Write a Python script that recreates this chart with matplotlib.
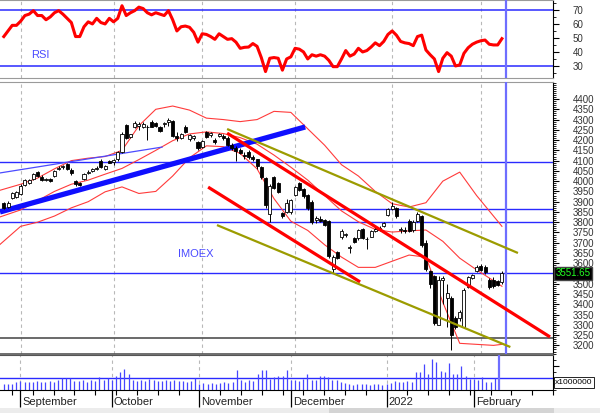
import numpy as np
import pandas as pd
import matplotlib
matplotlib.use("Agg")
import matplotlib.pyplot as plt
from matplotlib.patches import Rectangle
from matplotlib.transforms import blended_transform_factory, offset_copy
from matplotlib.ticker import MultipleLocator

plt.rcParams['font.family'] = ['Liberation Sans', 'DejaVu Sans']

# ---- data -------------------------------------------------------------------
dates = pd.bdate_range("2021-08-26", "2022-02-08")
future_days = pd.bdate_range("2021-08-26", "2022-02-28")
month_names = ["September", "October", "November", "December", "2022", "February"]

opens = [3892, 3872, 3918, 3925, 3938, 3983, 3990, 4012, 4045, 4022,
         4008, 4010, 4026, 4058, 4068, 4082, 4056, 4000, 3990, 4010,
         4040, 4050, 4060, 4098, 4058, 4098, 4092, 4108, 4140, 4272,
         4215, 4262, 4270, 4265, 4262, 4290, 4284, 4265, 4278, 4290,
         4292, 4222, 4210, 4266, 4205, 4210, 4190, 4165, 4240, 4225,
         4200, 4222, 4222, 4212, 4176, 4160, 4150, 4128, 4142, 4120,
         4106, 4070, 4015, 3840, 4018, 3990, 3846, 3852, 3848, 3932,
         3990, 3960, 3932, 3900, 3812, 3818, 3810, 3805, 3570, 3655,
         3728, 3740, 3672, 3722, 3722, 3765, 3720, 3730, 3758, 3764,
         3780, 3836, 3862, 3870, 3760, 3762, 3808, 3760, 3808, 3830,
         3700, 3560, 3540, 3300, 3520, 3430, 3430, 3335, 3335, 3290,
         3485, 3528, 3562, 3588, 3584, 3518, 3520, 3512, 3508]
highs = [3898, 3902, 3948, 3952, 3985, 4010, 4012, 4040, 4050, 4028,
         4014, 4014, 4054, 4072, 4080, 4088, 4062, 4006, 3998, 4042,
         4052, 4064, 4072, 4106, 4078, 4104, 4110, 4145, 4238, 4280,
         4232, 4292, 4290, 4286, 4272, 4296, 4290, 4270, 4290, 4310,
         4298, 4240, 4235, 4272, 4232, 4225, 4196, 4202, 4246, 4240,
         4210, 4236, 4230, 4218, 4186, 4170, 4160, 4140, 4150, 4126,
         4110, 4074, 4020, 3985, 4024, 3998, 3852, 3915, 3912, 3976,
         3996, 3966, 3936, 3906, 3830, 3828, 3814, 3812, 3640, 3662,
         3765, 3748, 3690, 3730, 3768, 3770, 3728, 3762, 3775, 3780,
         3800, 3870, 3900, 3876, 3775, 3778, 3815, 3810, 3850, 3836,
         3712, 3565, 3545, 3540, 3540, 3500, 3440, 3345, 3370, 3480,
         3540, 3550, 3590, 3596, 3590, 3530, 3534, 3520, 3562]
lows = [3862, 3868, 3915, 3920, 3932, 3978, 3985, 4008, 4020, 4000,
        4000, 3998, 4020, 4052, 4060, 4052, 4030, 3978, 3975, 4005,
        4035, 4044, 4052, 4062, 4052, 4086, 4080, 4100, 4135, 4205,
        4210, 4258, 4250, 4260, 4200, 4262, 4262, 4240, 4262, 4270,
        4215, 4198, 4205, 4236, 4196, 4200, 4150, 4160, 4210, 4215,
        4180, 4216, 4200, 4170, 4150, 4100, 4130, 4110, 4110, 4100,
        4060, 4010, 3870, 3800, 3960, 3940, 3822, 3846, 3840, 3928,
        3950, 3920, 3860, 3790, 3798, 3800, 3780, 3625, 3552, 3620,
        3720, 3730, 3650, 3700, 3714, 3716, 3670, 3726, 3750, 3758,
        3775, 3830, 3858, 3820, 3745, 3748, 3752, 3754, 3800, 3680,
        3560, 3480, 3300, 3320, 3400, 3290, 3177, 3280, 3320, 3285,
        3480, 3522, 3556, 3560, 3550, 3475, 3480, 3490, 3500]
closes = [3870, 3896, 3942, 3946, 3978, 4004, 4006, 4034, 4026, 4006,
          4010, 4002, 4048, 4064, 4072, 4058, 4040, 3984, 3982, 4036,
          4046, 4058, 4066, 4068, 4074, 4090, 4104, 4140, 4232, 4212,
          4228, 4282, 4276, 4280, 4264, 4266, 4270, 4246, 4282, 4296,
          4222, 4208, 4230, 4240, 4226, 4218, 4162, 4196, 4216, 4236,
          4192, 4232, 4210, 4176, 4160, 4148, 4138, 4122, 4116, 4106,
          4072, 4018, 3884, 3976, 3966, 3948, 3828, 3892, 3906, 3970,
          3956, 3926, 3870, 3800, 3820, 3806, 3788, 3634, 3632, 3626,
          3758, 3742, 3680, 3706, 3760, 3724, 3718, 3756, 3766, 3772,
          3794, 3862, 3880, 3828, 3766, 3756, 3758, 3802, 3842, 3690,
          3570, 3500, 3310, 3520, 3530, 3455, 3250, 3290, 3362, 3470,
          3533, 3543, 3582, 3568, 3556, 3486, 3488, 3496, 3551.65]

volumes = [14000, 15000, 16000, 21000, 22000, 20000, 21000, 20000, 22000, 19000,
           20000, 23000, 21000, 24000, 30000, 31000, 30000, 23000, 22000, 24000,
           21000, 25000, 22000, 32000, 26000, 31000, 24000, 36000, 45000, 52000,
           40000, 26000, 23000, 25000, 22000, 27000, 24000, 22000, 23000, 25000,
           22000, 24000, 23000, 22000, 21000, 23000, 30000, 16000, 18000, 15000,
           17000, 16000, 18000, 19000, 17000, 20000, 50000, 26000, 20000, 24000,
           22000, 40000, 50000, 50000, 28000, 32000, 36000, 34000, 50000, 26000,
           24000, 22000, 28000, 40000, 26000, 24000, 36000, 36000, 32000, 25000,
           24000, 20000, 17000, 15000, 12000, 16000, 14000, 16000, 13000, 15000,
           14000, 12000, 16000, 18000, 22000, 20000, 19000, 22000, 20000, 44000,
           46000, 65000, 40000, 77000, 69000, 48000, 44000, 68000, 40000, 40000,
           61000, 36000, 28000, 27000, 26000, 32000, 21000, 19000, 31000]

rsi = [51, 55, 59, 59, 62, 66, 67, 69.5, 66, 66,
       63, 65, 68, 69.5, 67, 64, 61, 51, 51, 58,
       61.5, 60, 64, 61, 60, 64, 61.5, 64, 73, 66,
       68, 69.5, 72, 71, 68, 66.5, 68, 67, 66, 69.5,
       63, 55, 58, 58.5, 57.6, 54, 47, 53, 52.5, 51,
       49, 53, 51, 49, 49.5, 47, 42.6, 43.3, 43.5, 46,
       44, 36, 26, 35.5, 36, 35.5, 27, 35, 36.5, 42.6,
       42, 40, 35, 38, 37, 38, 37, 34, 29.5, 29.5,
       35, 41, 37, 38.5, 42.6, 40, 41, 43.5, 46.5, 44.5,
       47.5, 52.5, 55, 52, 47.5, 46.5, 46, 44.5, 51, 52,
       41.4, 38, 35, 26, 35.5, 39.5, 37, 30, 30.7, 39,
       43, 45.5, 47, 48, 48.5, 45.5, 45, 45, 49.5]

# Bollinger bands (bar index -> price)
bb_idx = [-1, 4, 8, 12, 16, 20, 24, 28, 32, 36, 40, 44, 48, 52, 56, 60, 64,
          68, 72, 76, 80, 84, 88, 92, 96, 100, 104, 108, 112, 116, 118]
bb_upper = [3955, 3985, 4015, 4060, 4100, 4112, 4120, 4150, 4270, 4350, 4366,
            4346, 4307, 4300, 4290, 4300, 4340, 4335, 4255, 4175, 4080, 4025,
            3950, 3890, 3874, 3895, 4000, 4044, 3930, 3830, 3780]
bb_mid = [3825, 3860, 3905, 3950, 3985, 4005, 4034, 4062, 4105, 4150, 4197,
          4230, 4240, 4232, 4212, 4180, 4127, 4068, 4005, 3930, 3855, 3802,
          3765, 3752, 3758, 3762, 3707, 3625, 3568, 3515, 3488]
bb_lower = [3690, 3780, 3800, 3830, 3870, 3900, 3948, 3972, 3940, 3950, 4025,
            4114, 4172, 4168, 4135, 4060, 3915, 3805, 3760, 3690, 3630, 3580,
            3580, 3610, 3640, 3630, 3410, 3210, 3205, 3200, 3205]

# trend lines: (start idx, end idx), (start price, end price)
thin_blue = ((-0.9, 37.5), (4040, 4166))
thick_blue = ((-0.9, 71.4), (3850, 4264))
red_upper = ((52.9, 129.4), (4234, 3241))
red_lower = ((48.4, 84.4), (3971, 3509))
olive_upper = ((52.9, 121.8), (4254, 3650))
olive_lower = ((50.5, 120.0), (3786, 3192))

blue_levels = [4095, 3864, 3803, 3551]
black_level = 3236
rsi_levels = [70, 30]
vol_level = 30000
cursor_idx = 119
last_price = "3551.65"

# ---- figure -----------------------------------------------------------------
W, H = 600, 413
fig = plt.figure(figsize=(W / 100, H / 100), dpi=100, facecolor='white')

def panel(x0, y0, x1, y1):
    return fig.add_axes([x0 / W, 1 - y1 / H, (x1 - x0) / W, (y1 - y0) / H])

ax_r = panel(0, 0, 553, 78)
ax_p = panel(0, 82, 553, 354)
ax_v = panel(0, 355, 553, 390)

n = len(closes)
idx = np.arange(n)
month_starts = [i for i in range(1, n) if dates[i].month != dates[i - 1].month]
mondays = [i for i, d in enumerate(future_days) if d.weekday() == 0]

for ax in (ax_r, ax_p, ax_v):
    ax.set_xlim(-0.9, 130.1)
    ax.yaxis.tick_right()
    ax.tick_params(axis='y', which='major', length=4, width=0.8, pad=10,
                   labelsize=7, labelcolor='#333333')
    ax.tick_params(axis='y', which='minor', length=2, width=0.6)
    for s in ('left', 'top', 'bottom'):
        ax.spines[s].set_color('#9a9a9a')
    ax.spines['left'].set_visible(False)
    ax.spines['right'].set_color('black')
    for m in month_starts:
        ax.axvline(m, color='#b8b8b8', lw=0.8, ls=(0, (3, 3)), zorder=0)
    ax.axvline(cursor_idx, color='#6e6eff', lw=1.6, zorder=5)
    ax.set_xticks([])

# ---- RSI --------------------------------------------------------------------
ax_r.set_ylim(21.4, 77.1)
ax_r.set_yticks([30, 40, 50, 60, 70])
ax_r.yaxis.set_minor_locator(MultipleLocator(5))
for lv in rsi_levels:
    ax_r.axhline(lv, color='#2a2aff', lw=1.1, zorder=1)
ax_r.plot(idx, rsi, color='#ff0000', lw=2.2, zorder=3, solid_joinstyle='round')
ax_r.text(31 / 553, 38, "RSI",
          transform=blended_transform_factory(ax_r.transAxes, ax_r.transData),
          fontsize=8, color='#4a4aff', va='center', ha='left')

# ---- price ------------------------------------------------------------------
ax_p.set_ylim(3158, 4483)
ticks = np.arange(3200, 4401, 50)
ax_p.set_yticks(ticks)
# the 3550 label sits under the last-price box
ax_p.set_yticklabels(["" if t == 3550 else str(t) for t in ticks])
ax_p.yaxis.set_minor_locator(MultipleLocator(10))
ax_p.spines['bottom'].set_color('#555555')
ax_p.spines['bottom'].set_linewidth(1.2)

for lv in blue_levels:
    ax_p.axhline(lv, color='#2a2aff', lw=1.0, zorder=1)
ax_p.axhline(black_level, color='#505050', lw=1.2, zorder=1)

ax_p.plot(bb_idx, bb_upper, color='#ff3b3b', lw=0.8, zorder=2)
ax_p.plot(bb_idx, bb_mid, color='#ff3b3b', lw=0.8, zorder=2)
ax_p.plot(bb_idx, bb_lower, color='#ff3b3b', lw=0.8, zorder=2)

ax_p.plot(*thin_blue, color='#4b4bff', lw=0.9, zorder=2)
ax_p.plot(*thick_blue, color='#0f0fff', lw=3.8, zorder=2, solid_capstyle='butt')

o = np.array(opens, float)
c = np.array(closes, float)
ax_p.vlines(idx, lows, highs, color='black', lw=0.7, zorder=3)
up = c >= o
body = np.maximum(np.abs(c - o), 2.5)
ax_p.bar(idx, body, bottom=np.minimum(o, c), width=0.72,
         color=np.where(up, 'white', 'black'), edgecolor='black', linewidth=0.6, zorder=4)

ax_p.plot(*red_upper, color='#ff0000', lw=2.3, zorder=5, solid_capstyle='butt')
ax_p.plot(*red_lower, color='#ff0000', lw=2.3, zorder=5, solid_capstyle='butt')
ax_p.plot(*olive_upper, color='#9c9c00', lw=1.6, zorder=5, solid_capstyle='butt')
ax_p.plot(*olive_lower, color='#9c9c00', lw=1.6, zorder=5, solid_capstyle='butt')

ax_p.text(41.3, 3645, "IMOEX", fontsize=8, color='#4a4aff', va='center', ha='left')
ax_p.text(1.004, float(last_price), last_price,
          transform=blended_transform_factory(ax_p.transAxes, ax_p.transData),
          fontsize=7, color='#22ff22', va='center', ha='left', zorder=10, clip_on=False,
          bbox=dict(boxstyle='square,pad=0.15', facecolor='black', edgecolor='#444444'))

# ---- volume -----------------------------------------------------------------
ax_v.set_ylim(0, 87500)
ax_v.set_yticks([60000])
ax_v.set_yticklabels([])
ax_v.yaxis.set_minor_locator(MultipleLocator(15000))
ax_v.spines['top'].set_color('#555555')
ax_v.spines['bottom'].set_color('black')
ax_v.vlines(idx, 0, volumes, color='#4646ff', lw=0.9, zorder=2)
ax_v.axhline(vol_level, color='#2a2aff', lw=1.0, zorder=1)
ax_v.text(1.004, vol_level - 2500, "x1000000",
          transform=blended_transform_factory(ax_v.transAxes, ax_v.transData),
          fontsize=6, color='black', va='top', ha='left', zorder=10, clip_on=False,
          bbox=dict(boxstyle='square,pad=0.2', facecolor='white', edgecolor='black', lw=0.6))

ax_v.set_xticks(month_starts)
ax_v.set_xticks(mondays, minor=True)
ax_v.tick_params(axis='x', which='major', length=12, width=0.9, labelbottom=False)
ax_v.tick_params(axis='x', which='minor', length=3.5, width=0.8)
lab_tr = offset_copy(blended_transform_factory(ax_v.transData, fig.transFigure),
                     fig=fig, x=2, y=0, units='dots')
for m, name in zip(month_starts, month_names):
    ax_v.text(m, 1 - 402 / H, name, transform=lab_tr, fontsize=8, color='#222222',
              ha='left', va='center', clip_on=False)

# scroll bar strip at the bottom
fig.patches.append(Rectangle((0, 0), 1, 5 / H, transform=fig.transFigure,
                             facecolor='#ececec', edgecolor='none'))
fig.patches.append(Rectangle((329 / W, 0), 225 / W, 5 / H, transform=fig.transFigure,
                             facecolor='#d4d4d4', edgecolor='none'))

fig.savefig("out.png", dpi=100)
